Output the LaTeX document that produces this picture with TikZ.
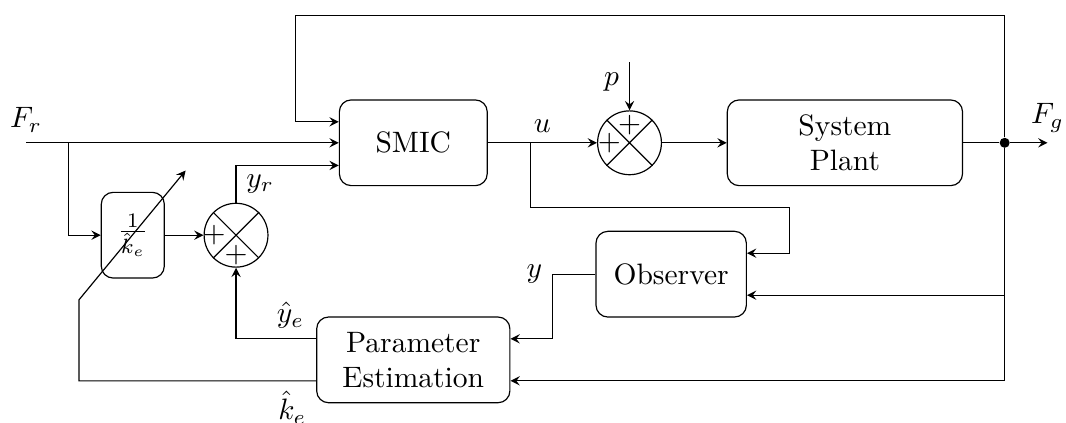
\documentclass[tikz,border=0pt]{standalone}
\usepackage{amsmath,amssymb}
\usepackage{tikz}
\usetikzlibrary{arrows,positioning,calc}

\begin{document}
\begin{tikzpicture}[
  block/.style={draw, rounded corners=4pt, align=center, minimum height=1.02cm, inner sep=2pt},
  sumj/.style={draw, circle, minimum size=0.76cm, inner sep=0pt},
  >=stealth
]
\useasboundingbox (-4.92,1.70) rectangle (7.77,-3.33);
\node[block, minimum width=1.76cm] (smic) {SMIC};
\node[sumj, right=1.30cm of smic] (sum2) {};
\node[block, minimum width=2.80cm, right=0.77cm of sum2] (plant) {System\\Plant};
\node[block, minimum width=1.79cm, below=0.53cm of smic, xshift=3.07cm] (obs) {Observer};
\node[block, minimum width=2.30cm, below=1.55cm of smic] (param) {Parameter\\Estimation};
\node[sumj] (sum1) at (-2.11,-1.10) {};
\node[block, minimum width=0.75cm, inner sep=0pt, left=0.46cm of sum1] (kbox) {$\frac{1}{\hat{k}_e}$};
\node[circle, fill, inner sep=1.2pt] (dot) at (7.04,0) {};
\foreach \s in {sum1,sum2}
  \draw (\s.north west) -- (\s.south east) (\s.north east) -- (\s.south west);
\node (plus1w) at ($(sum1.center)+(-0.26,0)$) {$+$};
\node (plus1s) at ($(sum1.center)+(0,-0.24)$) {$+$};
\node (plus2w) at ($(sum2.center)+(-0.24,0)$) {$+$};
\node (plus2n) at ($(sum2.center)+(0,0.21)$) {$+$};
\coordinate (fr) at (-4.61,0);
\coordinate (frb) at (-4.10,0);
\coordinate (topl) at (-1.40,1.52);
\coordinate (ub) at (1.40,0);
\coordinate (ucorner) at (4.48,-0.77);
\coordinate (pin) at ($(sum2.north)+(0,0.57)$);
\coordinate (fg) at (7.55,0);
\coordinate (kcorner) at (-3.98,-1.87);
\coordinate (ktip) at (-2.71,-0.33);
\draw[->] (fr) node[above] {$F_r$} -- (smic.west);
\draw[->] (frb) |- (kbox.west);
\draw[->] (kbox) -- (sum1);
\draw[->] (sum1.north) |- ($(smic.west)+(0,-0.27)$) node[pos=0.25, right] {$y_r$};
\draw[->] (dot) |- (topl) |- ($(smic.west)+(0,0.25)$);
\draw[->] (smic) -- node[above] {$u$} (sum2);
\draw[->] (ub) |- (ucorner) |- ($(obs.east)+(0,0.25)$);
\draw[->] (pin) node[below left] {$p$} -- (sum2.north);
\draw[->] (sum2) -- (plant);
\draw (plant) -- (dot);
\draw[->] (dot) -- (fg) node[above] {$F_g$};
\draw[->] (dot) |- ($(obs.east)+(0,-0.25)$);
\draw[->] (dot) |- ($(param.east)+(0,-0.25)$);
\draw[->] (obs.west) -- ++(-0.51,0) node[left] {$y$} |- ($(param.east)+(0,0.25)$);
\draw[->] ($(param.west)+(0,0.25)$) -| node[pos=0.16, above] {$\hat{y}_e$} (sum1.south);
\draw[->] ($(param.west)+(0,-0.25)$) -| node[pos=0.05, below] {$\hat{k}_e$} (kcorner) -- (ktip);
\end{tikzpicture}
\end{document}
